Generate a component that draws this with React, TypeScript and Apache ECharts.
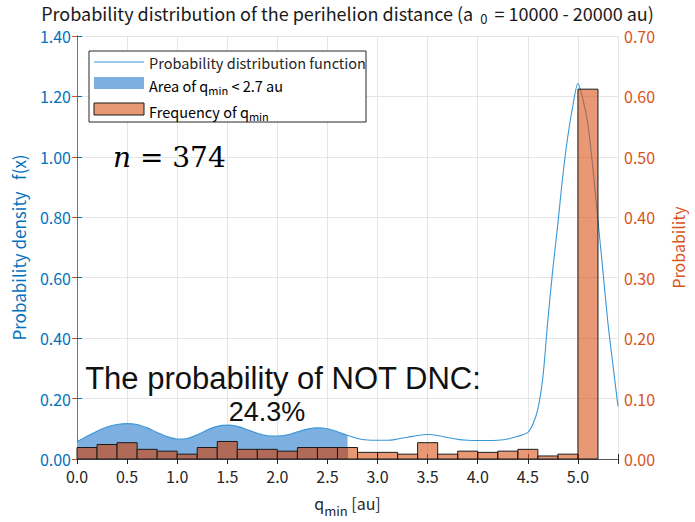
import { useEffect, useRef } from 'react';
import * as echarts from 'echarts';

// Histogram bins (left edge, right edge) and probability of q_min
const binLeft = [0.0, 0.2, 0.4, 0.6, 0.8, 1.0, 1.2, 1.4, 1.6, 1.8, 2.0, 2.2, 2.4, 2.6, 2.8, 3.0, 3.2, 3.4, 3.6, 3.8, 4.0, 4.2, 4.4, 4.6, 4.8, 5.0];
const binRight = [0.2, 0.4, 0.6, 0.8, 1.0, 1.2, 1.4, 1.6, 1.8, 2.0, 2.2, 2.4, 2.6, 2.8, 3.0, 3.2, 3.4, 3.6, 3.8, 4.0, 4.2, 4.4, 4.6, 4.8, 5.0, 5.2];
const frequency = [0.019, 0.024, 0.027, 0.016, 0.013, 0.008, 0.019, 0.029, 0.016, 0.016, 0.013, 0.019, 0.019, 0.019, 0.011, 0.011, 0.008, 0.027, 0.008, 0.013, 0.011, 0.013, 0.016, 0.005, 0.008, 0.612];

// Probability density function
const pdfX = [0.0, 0.1, 0.2, 0.3, 0.4, 0.5, 0.6, 0.7, 0.8, 0.9, 1.0, 1.1, 1.2, 1.3, 1.4, 1.5, 1.6, 1.7, 1.8, 1.9, 2.0, 2.1, 2.2, 2.3, 2.4, 2.5, 2.6, 2.7, 2.8, 2.9, 3.0, 3.1, 3.2, 3.3, 3.4, 3.5, 3.6, 3.7, 3.8, 3.9, 4.0, 4.1, 4.2, 4.3, 4.4, 4.5, 4.55, 4.6, 4.65, 4.7, 4.75, 4.8, 4.85, 4.9, 4.95, 5.0, 5.05, 5.1, 5.15, 5.2, 5.25, 5.3, 5.35, 5.4];
const pdfY = [0.056, 0.075, 0.092, 0.106, 0.114, 0.117, 0.114, 0.103, 0.088, 0.074, 0.066, 0.068, 0.080, 0.096, 0.108, 0.112, 0.108, 0.097, 0.085, 0.077, 0.076, 0.080, 0.090, 0.099, 0.103, 0.100, 0.090, 0.078, 0.068, 0.063, 0.062, 0.062, 0.066, 0.072, 0.078, 0.081, 0.078, 0.071, 0.065, 0.062, 0.061, 0.061, 0.062, 0.066, 0.075, 0.088, 0.115, 0.165, 0.27, 0.46, 0.63, 0.78, 0.94, 1.07, 1.17, 1.243, 1.19, 1.106, 0.96, 0.79, 0.62, 0.448, 0.31, 0.174];
const areaLimit = 2.7;

const xTicks = ['0.0', '0.5', '1.0', '1.5', '2.0', '2.5', '3.0', '3.5', '4.0', '4.5', '5.0'];

const BLUE = '#0072BD';
const ORANGE = '#D95319';
const AREA = '#7DB0E0';
const BAR = 'rgba(217,83,25,0.6)';
const BAR_ON_AREA = '#B06A57';
const FONT = 'Noto Sans CJK JP';
const BIG_FONT = 'Liberation Sans';

export default function App() {
  const ref = useRef<HTMLDivElement>(null);
  useEffect(() => {
    if (!ref.current) return;
    const chart = echarts.init(ref.current, null, { renderer: 'svg' });
    const pdfData = pdfX.map((x, i) => [x, pdfY[i]]);
    const areaData = pdfData.filter((p) => p[0] <= areaLimit + 1e-9);
    const barData = binLeft.map((x, i) => [x, binRight[i], frequency[i]]);

    const subRich = {
      t: { fontFamily: FONT, fontSize: 14.5, color: '#262626', lineHeight: 16 },
      s: { fontFamily: FONT, fontSize: 11, color: '#262626', padding: [9, 0, 0, 0], lineHeight: 12 },
    };

    chart.setOption({
      animation: false,
      backgroundColor: '#ffffff',
      textStyle: { fontFamily: FONT },
      title: {
        text: '{t|Probability distribution of the perihelion distance (a }{s|0}{t| = 10000 - 20000 au)}',
        left: 'center',
        top: -2,
        textStyle: {
          rich: {
            t: { fontFamily: FONT, fontSize: 18, fontWeight: 'normal', color: '#1a1a1a', lineHeight: 20 },
            s: { fontFamily: FONT, fontSize: 13, fontWeight: 'normal', color: '#1a1a1a', padding: [11, 3, 0, 3], lineHeight: 13 },
          },
        },
      },
      grid: { left: 77, right: 77, top: 36, bottom: 59, containLabel: false },
      xAxis: [
        {
          type: 'value',
          min: 0,
          max: 5.4,
          interval: 0.5,
          position: 'bottom',
          name: '{q|q}{s|min}{q| [au]}',
          nameLocation: 'middle',
          nameGap: 29,
          nameTextStyle: {
            rich: {
              q: { fontFamily: FONT, fontSize: 16, color: '#262626' },
              s: { fontFamily: FONT, fontSize: 13, color: '#262626', padding: [16, 0, 0, 0] },
            },
          },
          axisLine: { show: true, lineStyle: { color: '#6FA8DC', width: 1 } },
          axisTick: { show: true, inside: true, length: 5, lineStyle: { color: '#262626' } },
          axisLabel: {
            fontSize: 16,
            color: '#262626',
            margin: 9,
            formatter: (v: number) => {
              const s = v.toFixed(1);
              return xTicks.includes(s) && v <= 5.01 ? s : '';
            },
          },
          splitLine: { show: true, lineStyle: { color: '#E5E5E5', width: 1 } },
        },
        {
          type: 'value',
          min: 0,
          max: 5.4,
          interval: 0.5,
          position: 'top',
          axisLine: { show: true, lineStyle: { color: '#555555', width: 1 } },
          axisTick: { show: true, inside: true, length: 5, lineStyle: { color: '#262626' } },
          axisLabel: { show: false },
          splitLine: { show: false },
        },
      ],
      yAxis: [
        {
          type: 'value',
          min: 0,
          max: 1.4,
          interval: 0.2,
          position: 'left',
          name: 'Probability density   f(x)',
          nameLocation: 'middle',
          nameGap: 50,
          nameTextStyle: { fontSize: 17, color: BLUE, fontFamily: FONT },
          axisLine: { show: true, lineStyle: { color: BLUE, width: 1 } },
          axisTick: { show: true, inside: true, length: 5, lineStyle: { color: BLUE } },
          axisLabel: { fontSize: 16, lineHeight: 14, color: BLUE, margin: 6, formatter: (v: number) => v.toFixed(2) },
          splitLine: { show: true, lineStyle: { color: '#E5E5E5', width: 1 } },
        },
        {
          type: 'value',
          min: 0,
          max: 0.7,
          interval: 0.1,
          position: 'right',
          name: 'Probability',
          nameLocation: 'middle',
          nameGap: 52,
          nameTextStyle: { fontSize: 16, color: ORANGE, fontFamily: FONT },
          axisLine: { show: true, lineStyle: { color: ORANGE, width: 1 } },
          axisTick: { show: true, inside: true, length: 5, lineStyle: { color: ORANGE } },
          axisLabel: { fontSize: 16, lineHeight: 14, color: ORANGE, margin: 6, formatter: (v: number) => v.toFixed(2) },
          splitLine: { show: false },
        },
      ],
      series: [
        {
          name: 'Area',
          type: 'line',
          xAxisIndex: 0,
          yAxisIndex: 0,
          data: areaData,
          symbol: 'none',
          smooth: 0.3,
          lineStyle: { width: 0 },
          areaStyle: { color: AREA, opacity: 1, origin: 'start' },
          z: 1,
        },
        {
          name: 'PDF',
          type: 'line',
          xAxisIndex: 0,
          yAxisIndex: 0,
          data: pdfData,
          symbol: 'none',
          smooth: 0.3,
          lineStyle: { width: 1.1, color: '#3A97D6' },
          z: 2,
        },
        {
          name: 'Frequency',
          type: 'custom',
          xAxisIndex: 0,
          yAxisIndex: 1,
          data: barData,
          encode: { x: [0, 1], y: 2 },
          z: 3,
          renderItem: (_params: any, api: any) => {
            const x0 = api.value(0);
            const x1 = api.value(1);
            const y = api.value(2);
            const pTop = api.coord([x0, y]);
            const pBot = api.coord([x1, 0]);
            let fill: any = BAR;
            if (x1 <= areaLimit + 1e-9) {
              fill = BAR_ON_AREA;
            } else if (x0 < areaLimit) {
              const f = (areaLimit - x0) / (x1 - x0);
              fill = new echarts.graphic.LinearGradient(0, 0, 1, 0, [
                { offset: 0, color: BAR_ON_AREA },
                { offset: f, color: BAR_ON_AREA },
                { offset: f, color: BAR },
                { offset: 1, color: BAR },
              ]);
            }
            return {
              type: 'rect',
              shape: { x: pTop[0], y: pTop[1], width: pBot[0] - pTop[0], height: pBot[1] - pTop[1] },
              style: { fill, stroke: '#1a1a1a', lineWidth: 1 },
            };
          },
        },
      ],
      graphic: [
        { type: 'rect', z: 100, shape: { x: 89, y: 51, width: 277, height: 71 }, style: { fill: '#ffffff', stroke: '#262626', lineWidth: 1 } },
        { type: 'line', z: 101, shape: { x1: 94, y1: 62, x2: 144, y2: 62 }, style: { stroke: '#3A97D6', lineWidth: 1.2 } },
        { type: 'rect', z: 101, shape: { x: 94, y: 77, width: 50, height: 12 }, style: { fill: AREA } },
        { type: 'rect', z: 101, shape: { x: 94, y: 103, width: 50, height: 12 }, style: { fill: BAR, stroke: '#1a1a1a', lineWidth: 1 } },
        { type: 'text', z: 101, style: { x: 149, y: 62, text: 'Probability distribution function', fill: '#262626', font: `14.5px "${FONT}"`, verticalAlign: 'middle', align: 'left' } },
        { type: 'text', z: 101, style: { x: 149, y: 85, text: '{t|Area of q}{s|min}{t| < 2.7 au}', rich: subRich, verticalAlign: 'middle', align: 'left' } },
        { type: 'text', z: 101, style: { x: 149, y: 111, text: '{t|Frequency of q}{s|min}', rich: subRich, verticalAlign: 'middle', align: 'left' } },
        {
          type: 'text',
          z: 100,
          style: {
            x: 113,
            y: 157,
            text: '{i|n}{r| = 374}',
            verticalAlign: 'middle',
            align: 'left',
            rich: {
              i: { fontFamily: 'DejaVu Serif', fontStyle: 'italic', fontSize: 28, color: '#111111' },
              r: { fontFamily: 'DejaVu Serif', fontSize: 28, color: '#111111' },
            },
          },
        },
        {
          type: 'text',
          z: 100,
          style: { x: 283, y: 378, text: 'The probability of NOT DNC:', fill: '#111111', font: `31px "${BIG_FONT}"`, lineHeight: 28, align: 'center', verticalAlign: 'middle' },
        },
        {
          type: 'text',
          z: 100,
          style: { x: 267, y: 412, text: '24.3%', fill: '#111111', font: `27px "${BIG_FONT}"`, lineHeight: 24, align: 'center', verticalAlign: 'middle' },
        },
      ],
    });
    return () => chart.dispose();
  }, []);
  return <div ref={ref} style={{ width: 695, height: 522, position: 'absolute', left: 0, top: 0 }} />;
}
